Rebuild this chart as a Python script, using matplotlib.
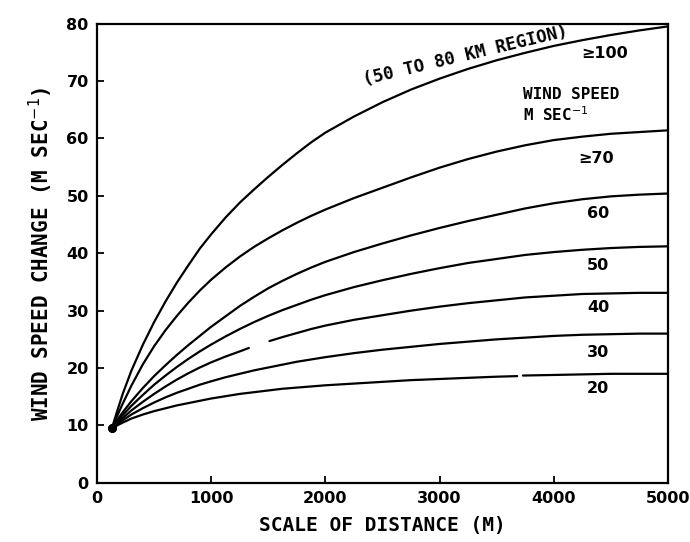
import matplotlib
matplotlib.use('Agg')
import matplotlib.pyplot as plt
import numpy as np

# scale of distance (m) shared by most curves
dist = [130, 175, 225, 300, 400, 500, 600, 700, 800, 900, 1000, 1125, 1250, 1375, 1500,
        1625, 1750, 1875, 2000, 2250, 2500, 2750, 3000, 3250, 3500, 3750, 4000, 4250,
        4500, 4750, 5000]

# wind speed change (m/s) for each wind speed class
y_100 = [9.5, 12.4, 15.5, 19.5, 24.0, 28.0, 31.6, 34.9, 37.9, 40.8, 43.3, 46.2, 48.8, 51.1, 53.3,
         55.4, 57.4, 59.3, 61.0, 63.8, 66.3, 68.5, 70.4, 72.1, 73.6, 74.9, 76.1, 77.1,
         78.0, 78.8, 79.5]
y_70 = [9.5, 11.6, 13.8, 16.9, 20.6, 23.8, 26.6, 29.1, 31.4, 33.5, 35.4, 37.5, 39.4, 41.1, 42.6,
        44.0, 45.3, 46.5, 47.6, 49.6, 51.4, 53.2, 54.9, 56.4, 57.7, 58.8, 59.7, 60.3,
        60.8, 61.1, 61.4]
y_60 = [9.5, 10.9, 12.3, 14.2, 16.5, 18.6, 20.5, 22.3, 24.0, 25.6, 27.2, 29.0, 30.8, 32.4, 33.9,
        35.2, 36.4, 37.5, 38.5, 40.2, 41.7, 43.1, 44.4, 45.6, 46.7, 47.8, 48.7, 49.4,
        49.9, 50.2, 50.4]
y_50 = [9.5, 10.6, 11.8, 13.4, 15.3, 17.1, 18.7, 20.2, 21.6, 22.9, 24.1, 25.5, 26.8, 28.0, 29.1,
        30.1, 31.0, 31.9, 32.7, 34.1, 35.3, 36.4, 37.4, 38.3, 39.0, 39.7, 40.2, 40.6,
        40.9, 41.1, 41.2]
y_30 = [9.5, 10.2, 10.9, 11.9, 13.0, 14.0, 14.9, 15.7, 16.4, 17.1, 17.7, 18.4, 19.0, 19.6, 20.1,
        20.6, 21.1, 21.5, 21.9, 22.6, 23.2, 23.7, 24.2, 24.6, 25.0, 25.3, 25.6, 25.8,
        25.9, 26.0, 26.0]

# the 40 and 20 curves have breaks in the ink, kept as nan
dist_40 = [130, 175, 225, 300, 400, 500, 600, 700, 800, 900, 1000, 1125, 1250, 1330, 1420, 1510,
           1625, 1750, 1875, 2000, 2250, 2500, 2750, 3000, 3250, 3500, 3750, 4000, 4250,
           4500, 4750, 5000]
y_40 = [9.5, 10.4, 11.3, 12.6, 14.1, 15.5, 16.8, 18.0, 19.1, 20.1, 21.0, 22.0, 22.9, 23.5, np.nan, 24.7,
        25.4, 26.1, 26.8, 27.4, 28.4, 29.2, 30.0, 30.7, 31.3, 31.8, 32.3, 32.6, 32.9,
        33.0, 33.1, 33.1]
dist_20 = [130, 175, 225, 300, 400, 500, 600, 700, 800, 900, 1000, 1125, 1250, 1375, 1500,
           1625, 1750, 1875, 2000, 2250, 2500, 2750, 3000, 3250, 3500, 3680, 3705, 3730, 4000, 4250,
           4500, 4750, 5000]
y_20 = [9.5, 10.0, 10.5, 11.2, 11.9, 12.5, 13.0, 13.5, 13.9, 14.3, 14.7, 15.1, 15.5, 15.8, 16.1,
        16.4, 16.6, 16.8, 17.0, 17.3, 17.6, 17.9, 18.1, 18.3, 18.5, 18.6, np.nan, 18.7, 18.8, 18.9,
        19.0, 19.0, 19.0]

curve_labels = ['\u2265100', '\u226570', '60', '50', '40', '30', '20']
label_x = [4450, 4370, 4390, 4390, 4390, 4390, 4390]
label_y = [74.7, 56.5, 46.9, 37.8, 30.5, 22.7, 16.4]

x_ticks = [0, 1000, 2000, 3000, 4000, 5000]
y_ticks = [0, 10, 20, 30, 40, 50, 60, 70, 80]

fig = plt.figure(figsize=(6.9, 5.42), dpi=100)
ax = fig.add_axes([0.1406, 0.109, 0.8274, 0.8476])

curves = [(dist, y_100), (dist, y_70), (dist, y_60), (dist, y_50),
          (dist_40, y_40), (dist, y_30), (dist_20, y_20)]
for xs, ys in curves:
    # all curves start from the same inked spot
    ax.plot(xs, ys, color='black', linewidth=1.6, solid_capstyle='round',
            solid_joinstyle='round', marker='o', markersize=5, markevery=[0])

for lab, lx, ly in zip(curve_labels, label_x, label_y):
    ax.text(lx, ly, lab, ha='center', va='center', fontsize=11.5,
            fontweight='bold', family='DejaVu Sans')

ax.text(3735, 67.7, 'WIND SPEED', ha='left', va='center', fontsize=11.5,
        fontweight='bold', family='DejaVu Sans Mono')
ax.text(3735, 64.2, 'M SEC$^{-1}$', ha='left', va='center', fontsize=11.5,
        fontweight='bold', family='DejaVu Sans Mono')
ax.text(3230, 74.4, '(50 TO 80 KM REGION)', ha='center', va='center',
        rotation=13.5, fontsize=12.5, fontweight='bold', family='DejaVu Sans Mono')

ax.set_xlim(0, 5000)
ax.set_ylim(0, 80)
ax.set_xticks(x_ticks)
ax.set_yticks(y_ticks)
ax.tick_params(direction='in', length=5, width=1.3, labelsize=11.5, pad=6)
for lab in ax.get_xticklabels() + ax.get_yticklabels():
    lab.set_fontweight('bold')
for sp in ax.spines.values():
    sp.set_linewidth(1.6)

ax.set_xlabel('SCALE OF DISTANCE (M)', fontsize=14, fontweight='bold',
              family='DejaVu Sans Mono', labelpad=7)
ax.set_ylabel('WIND SPEED CHANGE (M SEC$^{-1}$)', fontsize=15, fontweight='bold',
              family='DejaVu Sans Mono', labelpad=8)

plt.savefig('out.png', dpi=100)
